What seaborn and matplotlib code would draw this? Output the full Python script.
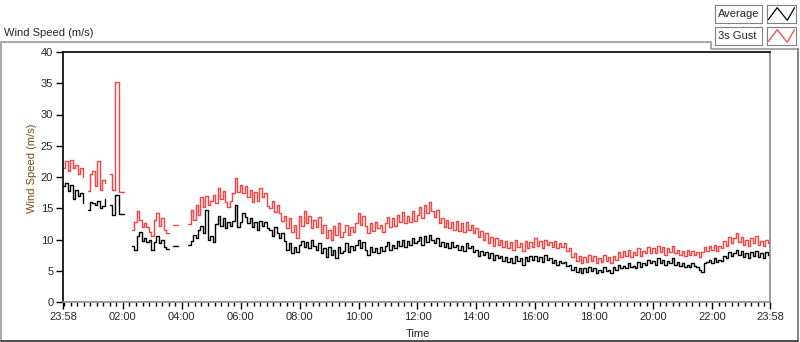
import numpy as np
import pandas as pd
import matplotlib
matplotlib.use("Agg")
import matplotlib.pyplot as plt
import seaborn as sns
from matplotlib.lines import Line2D

nan = np.nan

# minutes after 23:58, one sample every 5 minutes
minutes = list(range(0, 1441, 5))

# 3 s gust (red), one row per hour
gust = [
    21.5, 22.5, 21.0, 22.8, 21.5, 22.0, 20.5, 21.5, 20.0, nan, 17.8, 20.5,
    21.0, 18.5, 22.5, 18.0, 19.5, 19.0, nan, 20.5, 18.0, 35.2, 35.2, 17.6,
    17.6, 17.6, nan, nan, 11.5, 12.8, 14.5, 13.2, 12.0, 12.6, 12.0, 11.2,
    10.5, 13.2, 14.2, 12.2, 13.4, 11.6, 11.0, 11.0, nan, 12.3, 12.3, 12.3,
    nan, nan, nan, 12.5, 14.8, 13.2, 15.6, 14.0, 16.8, 15.2, 17.0, 15.5,
    16.2, 17.2, 15.8, 18.2, 16.5, 17.8, 16.0, 15.2, 16.2, 17.5, 19.8, 17.6,
    18.8, 17.4, 18.5, 16.8, 18.0, 16.0, 17.6, 16.2, 18.2, 16.8, 17.4, 15.4,
    15.0, 16.2, 14.4, 15.6, 14.2, 13.0, 13.8, 11.8, 13.4, 11.2, 12.4, 10.2,
    13.8, 12.2, 14.5, 12.6, 13.8, 11.8, 13.2, 12.0, 13.6, 11.0, 12.4, 10.2,
    11.6, 10.0, 12.2, 10.8, 12.6, 10.4, 11.2, 12.4, 10.8, 12.0, 11.2, 12.6,
    14.2, 12.4, 13.8, 12.2, 11.0, 12.6, 11.4, 12.8, 11.8, 12.4, 11.2, 12.6,
    13.6, 12.0, 13.4, 12.2, 14.0, 12.8, 14.4, 12.6, 13.8, 12.8, 14.6, 13.0,
    14.0, 15.2, 13.4, 15.6, 14.2, 16.0, 14.6, 13.6, 14.8, 12.6, 13.4, 12.0,
    13.2, 11.8, 12.8, 11.6, 13.0, 11.4, 12.6, 11.2, 12.8, 11.6, 12.4, 11.0,
    11.8, 10.4, 11.4, 10.0, 11.0, 9.4, 10.4, 9.0, 10.2, 9.2, 10.0, 8.8,
    9.8, 8.6, 9.6, 8.4, 10.0, 8.8, 9.4, 8.2, 9.8, 8.6, 9.6, 8.8,
    10.2, 9.0, 9.8, 8.6, 10.0, 9.2, 9.6, 8.8, 9.8, 8.6, 9.4, 8.8,
    9.4, 8.2, 8.6, 7.2, 7.8, 6.6, 7.4, 6.2, 7.2, 6.4, 7.6, 6.6,
    7.4, 6.2, 7.0, 6.4, 7.6, 6.6, 7.2, 6.2, 7.4, 6.8, 8.0, 7.2,
    8.2, 7.4, 8.4, 7.2, 8.0, 7.6, 8.6, 7.4, 8.2, 7.8, 8.8, 7.8,
    8.6, 7.8, 9.0, 8.0, 8.8, 7.6, 8.6, 8.0, 9.0, 7.8, 8.4, 7.6,
    8.2, 7.4, 8.4, 7.6, 8.2, 7.6, 8.0, 7.2, 8.0, 8.8, 8.2, 9.0,
    8.4, 9.2, 8.2, 9.0, 8.6, 9.8, 9.0, 10.4, 9.4, 10.2, 11.0, 9.6,
    10.4, 9.2, 10.0, 9.0, 10.2, 9.4, 10.6, 9.2, 9.8, 9.0, 10.0, 9.4,
    10.4,
]

# 1 min average (black)
average = [
    18.5, 19.0, 17.8, 18.8, 16.5, 18.0, 17.0, 17.5, 15.8, nan, 14.8, 16.0,
    15.8, 15.6, 16.2, 15.0, 15.3, 16.5, nan, 15.5, 14.0, 17.1, 17.1, 14.1,
    14.1, 14.1, nan, nan, 9.0, 8.3, 10.5, 11.2, 9.8, 10.3, 9.6, 10.0,
    8.3, 9.6, 10.6, 9.4, 10.0, 8.8, 8.5, 8.5, nan, 9.0, 9.0, 9.0,
    nan, nan, nan, 9.2, 9.8, 10.8, 10.2, 11.5, 12.2, 11.0, 14.8, 10.0,
    10.5, 9.6, 12.5, 13.8, 12.2, 13.5, 11.8, 12.8, 12.2, 13.0, 15.5, 12.0,
    12.8, 14.2, 13.6, 12.6, 13.4, 12.0, 12.8, 11.6, 12.9, 12.2, 12.8, 11.8,
    11.5, 10.6, 12.0, 11.0, 10.2, 11.0, 9.8, 8.4, 9.4, 7.8, 8.8, 8.0,
    9.2, 9.8, 8.8, 9.6, 8.6, 9.9, 9.0, 8.4, 9.4, 7.8, 8.6, 7.2,
    8.8, 7.6, 8.4, 7.0, 8.8, 7.8, 8.2, 9.4, 8.0, 9.0, 8.4, 9.2,
    10.0, 8.6, 9.6, 8.4, 7.6, 8.8, 8.0, 8.6, 7.8, 8.8, 8.2, 9.0,
    9.6, 8.4, 9.2, 8.6, 9.8, 9.0, 10.0, 8.8, 9.8, 9.2, 10.2, 9.4,
    9.8, 10.4, 9.2, 10.6, 9.6, 10.8, 10.0, 9.4, 10.2, 9.0, 9.6, 8.8,
    9.4, 8.6, 9.6, 8.8, 9.2, 8.4, 9.0, 8.2, 9.4, 8.6, 9.0, 8.0,
    8.4, 7.4, 8.2, 7.6, 8.0, 7.0, 7.8, 6.8, 7.6, 7.0, 7.4, 6.6,
    7.2, 6.4, 7.0, 6.2, 7.4, 6.6, 7.0, 6.0, 7.2, 6.6, 7.4, 6.8,
    7.4, 6.6, 7.2, 6.4, 7.6, 6.8, 7.0, 6.2, 6.8, 6.0, 6.6, 6.2,
    6.4, 5.8, 6.0, 5.2, 5.6, 4.8, 5.4, 4.6, 5.4, 4.8, 5.6, 5.0,
    5.4, 4.6, 5.2, 4.8, 5.6, 5.0, 5.2, 4.6, 5.6, 5.2, 6.0, 5.4,
    5.8, 5.4, 6.2, 5.6, 5.8, 5.4, 6.4, 5.6, 6.2, 6.0, 6.8, 6.2,
    6.6, 6.0, 7.0, 6.2, 6.8, 6.0, 6.6, 6.2, 7.0, 6.0, 6.4, 5.8,
    6.2, 5.6, 6.0, 5.6, 6.2, 5.8, 5.6, 5.2, 4.8, 6.2, 6.4, 6.8,
    6.2, 7.0, 6.4, 6.8, 6.6, 7.4, 7.0, 8.0, 7.4, 7.8, 8.4, 7.6,
    8.2, 7.2, 7.8, 7.0, 8.0, 7.4, 8.2, 7.2, 7.8, 7.0, 8.0, 7.6,
    8.4,
]

tick_minutes = [0, 122, 242, 362, 482, 602, 722, 842, 962, 1082, 1202, 1322, 1440]
tick_labels = ["23:58", "02:00", "04:00", "06:00", "08:00", "10:00", "12:00",
               "14:00", "16:00", "18:00", "20:00", "22:00", "23:58"]
y_ticks = [0, 5, 10, 15, 20, 25, 30, 35, 40]


def to_frame(values):
    d = pd.DataFrame({"t": minutes, "v": values})
    d["seg"] = d["v"].isna().cumsum()
    return d.dropna()


sns.set_style("white")
plt.rcParams["font.family"] = ["Liberation Sans", "DejaVu Sans"]
plt.rcParams["font.size"] = 8

fig = plt.figure(figsize=(8, 3.42), dpi=100)
W, H = 800, 342

ax = fig.add_axes([63 / W, 1 - 302 / H, 707 / W, 250 / H])

sns.lineplot(data=to_frame(average), x="t", y="v", units="seg", estimator=None,
             color="black", lw=1.0, drawstyle="steps-post", ax=ax)
sns.lineplot(data=to_frame(gust), x="t", y="v", units="seg", estimator=None,
             color="#ff4040", lw=1.0, drawstyle="steps-post", ax=ax)

ax.set_xlim(0, 1440)
ax.set_ylim(0, 40)
ax.set_xticks(tick_minutes)
ax.set_xticklabels(tick_labels)
minor = [m for m in np.arange(122 - 120 / 9 * 9, 1440, 120 / 9) if 0 < m < 1440]
ax.set_xticks(minor, minor=True)
ax.set_yticks(y_ticks)
ax.set_xlabel("")
ax.set_ylabel("")
ax.tick_params(axis="both", which="major", direction="out", length=5, width=1,
               color="black", labelsize=8, pad=2, left=True, bottom=True)
ax.tick_params(axis="x", which="minor", direction="out", length=3, width=1,
               color="black", bottom=True)
for side in ["left", "top"]:
    ax.spines[side].set_color("black")
    ax.spines[side].set_linewidth(1.2)
for side in ["right", "bottom"]:
    ax.spines[side].set_color("#8c8c8c")
    ax.spines[side].set_linewidth(1.2)

# labels
fig.text(4 / W, 1 - 36 / H, "Wind Speed (m/s)", fontsize=8, va="baseline", ha="left")
fig.text(32 / W, 1 - 168 / H, "Wind Speed (m/s)", fontsize=8, rotation=90,
         ha="center", va="center", color="#7a4a12")
fig.text(418 / W, 1 - 334 / H, "Time", fontsize=8, ha="center", va="center")

# outer panel frame
def px_line(xs, ys, color, lw=1.0):
    fig.add_artist(Line2D([x / W for x in xs], [1 - y / H for y in ys],
                          color=color, lw=lw, transform=fig.transFigure))

px_line([0.5, 0.5, 711, 711, 798], [341, 42, 42, 49, 49], "#9a9a9a", 1.2)
px_line([798, 798], [49, 341], "#6e6e6e", 1.2)
px_line([0.5, 798], [341, 341], "#303030", 1.2)

# legend boxes
for label, color, y0 in [("Average", "black", 5), ("3s Gust", "#ff4040", 27)]:
    box = fig.add_axes([715 / W, 1 - (y0 + 18) / H, 47 / W, 18 / H])
    box.set_xticks([])
    box.set_yticks([])
    for s in box.spines.values():
        s.set_color("#808080")
    box.text(0.06, 0.5, label, fontsize=8, va="center", ha="left", transform=box.transAxes)
    icon = fig.add_axes([767 / W, 1 - (y0 + 18) / H, 29 / W, 18 / H])
    icon.plot([0.05, 0.35, 0.7, 0.95], [0.2, 0.85, 0.15, 0.85], color=color, lw=0.9)
    icon.set_xlim(0, 1)
    icon.set_ylim(0, 1)
    icon.set_xticks([])
    icon.set_yticks([])
    for s in icon.spines.values():
        s.set_color("#808080")

fig.savefig("out.png", dpi=100)
